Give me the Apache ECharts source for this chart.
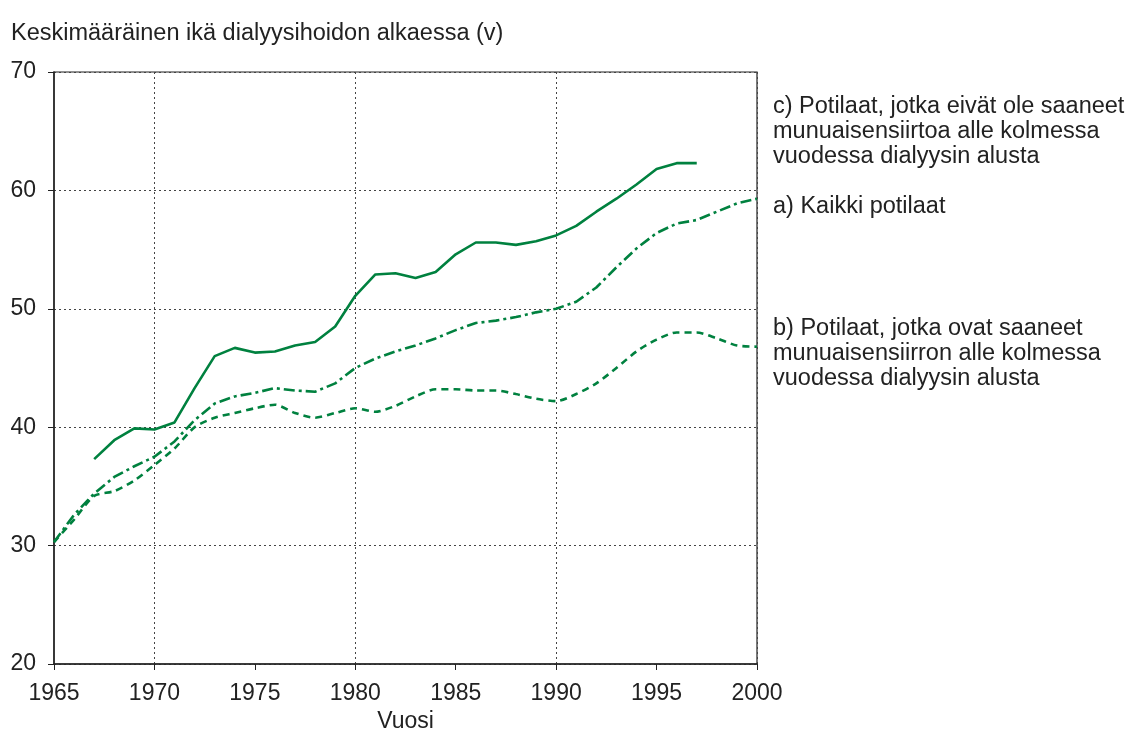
<!DOCTYPE html>
<html lang="fi">
<head>
  <meta charset="UTF-8">
  <title>Keskimääräinen ikä dialyysihoidon alkaessa</title>
  <script src="https://cdn.jsdelivr.net/npm/echarts@6/dist/echarts.min.js"></script>
</head>
<body style="margin:0;background:#fff;">
<div id="main" style="width:1129px;height:736px;"></div>
<script type="text/javascript">
    var myChart = echarts.init(document.getElementById('main'));

    // vuodet 1965-2000
    var years = [];
    for (var y = 1965; y <= 2000; y++) years.push(String(y));

    // c) ei siirtoa kolmessa vuodessa
    var seriesC = [null, null, 37.3, 38.9, 39.9, 39.8, 40.4, 43.3, 46.0, 46.7,
        46.3, 46.4, 46.9, 47.2, 48.5, 51.1, 52.9, 53.0, 52.6, 53.1,
        54.6, 55.6, 55.6, 55.4, 55.7, 56.2, 57.0, 58.2, 59.3, 60.5,
        61.8, 62.3, 62.3, null, null, null];
    // a) kaikki potilaat
    var seriesA = [30.3, 32.6, 34.4, 35.8, 36.7, 37.5, 38.8, 40.6, 42.0, 42.6,
        42.9, 43.3, 43.1, 43.0, 43.7, 45.0, 45.8, 46.4, 46.9, 47.5,
        48.2, 48.8, 49.0, 49.3, 49.7, 50.0, 50.6, 51.8, 53.5, 55.1,
        56.4, 57.2, 57.5, 58.2, 58.9, 59.3];
    // b) siirto kolmessa vuodessa
    var seriesB = [30.3, 32.2, 34.2, 34.6, 35.5, 36.8, 38.2, 40.0, 40.8, 41.2,
        41.6, 41.9, 41.2, 40.8, 41.2, 41.6, 41.3, 41.8, 42.6, 43.2,
        43.2, 43.1, 43.1, 42.8, 42.4, 42.2, 42.8, 43.7, 45.0, 46.4,
        47.4, 48.0, 48.0, 47.5, 46.9, 46.8];

    var labelC = 'c) Potilaat, jotka eivät ole saaneet\nmunuaisensiirtoa alle kolmessa\nvuodessa dialyysin alusta';
    var labelA = 'a) Kaikki potilaat';
    var labelB = 'b) Potilaat, jotka ovat saaneet\nmunuaisensiirron alle kolmessa\nvuodessa dialyysin alusta';

    var green = '#00813f';
    var font = 'Liberation Sans, Arial, sans-serif';
    var txt = '#222';

    var option = {
        animation: false,
        textStyle: { fontFamily: font },
        title: {
            text: 'Keskimääräinen ikä dialyysihoidon alkaessa (v)',
            left: 6,
            top: 17,
            textStyle: { fontSize: 23.5, fontWeight: 'normal', color: txt, fontFamily: font }
        },
        grid: {
            left: 54, right: 372, top: 72, bottom: 72,
            show: true, borderColor: '#222', borderWidth: 1.2,
            containLabel: false,
            outerBoundsMode: 'none'
        },
        xAxis: {
            type: 'category',
            data: years,
            boundaryGap: false,
            name: 'Vuosi',
            nameLocation: 'middle',
            nameGap: 46,
            nameTextStyle: { fontSize: 23, color: txt },
            axisLine: { lineStyle: { color: '#222', width: 1.5 } },
            axisTick: {
                interval: function (i) { return i % 5 === 0; },
                length: 6, lineStyle: { color: '#222' }
            },
            axisLabel: {
                interval: function (i) { return i % 5 === 0; },
                fontSize: 23, color: txt, margin: 18
            },
            splitLine: {
                show: true,
                interval: function (i) { return i % 10 === 5; },
                lineStyle: { color: '#444', type: [2, 3], width: 1 }
            }
        },
        yAxis: {
            type: 'value',
            min: 20, max: 70, interval: 10,
            axisLine: { show: true, lineStyle: { color: '#222', width: 1.5 } },
            axisTick: { show: true, length: 6, lineStyle: { color: '#222' } },
            axisLabel: { fontSize: 23, color: txt, margin: 18 },
            splitLine: { show: true, lineStyle: { color: '#444', type: [2, 3], width: 1 } }
        },
        graphic: [
            { type: 'text', left: 773, top: 94, style: { text: labelC, font: '23.5px ' + font, fill: txt, lineHeight: 25 } },
            { type: 'text', left: 773, top: 194, style: { text: labelA, font: '23.5px ' + font, fill: txt, lineHeight: 25 } },
            { type: 'text', left: 773, top: 316, style: { text: labelB, font: '23.5px ' + font, fill: txt, lineHeight: 25 } }
        ],
        series: [{
            name: 'c',
            type: 'line',
            data: seriesC,
            showSymbol: false,
            lineStyle: { color: green, width: 2.6, type: 'solid' },
            itemStyle: { color: green }
        }, {
            name: 'a',
            type: 'line',
            data: seriesA,
            showSymbol: false,
            lineStyle: { color: green, width: 2.6, type: [11, 4, 3, 4] },
            itemStyle: { color: green }
        }, {
            name: 'b',
            type: 'line',
            data: seriesB,
            showSymbol: false,
            smooth: 0.25,
            lineStyle: { color: green, width: 2.6, type: [7, 5] },
            itemStyle: { color: green }
        }]
    };

    myChart.setOption(option);
</script>
</body>
</html>
